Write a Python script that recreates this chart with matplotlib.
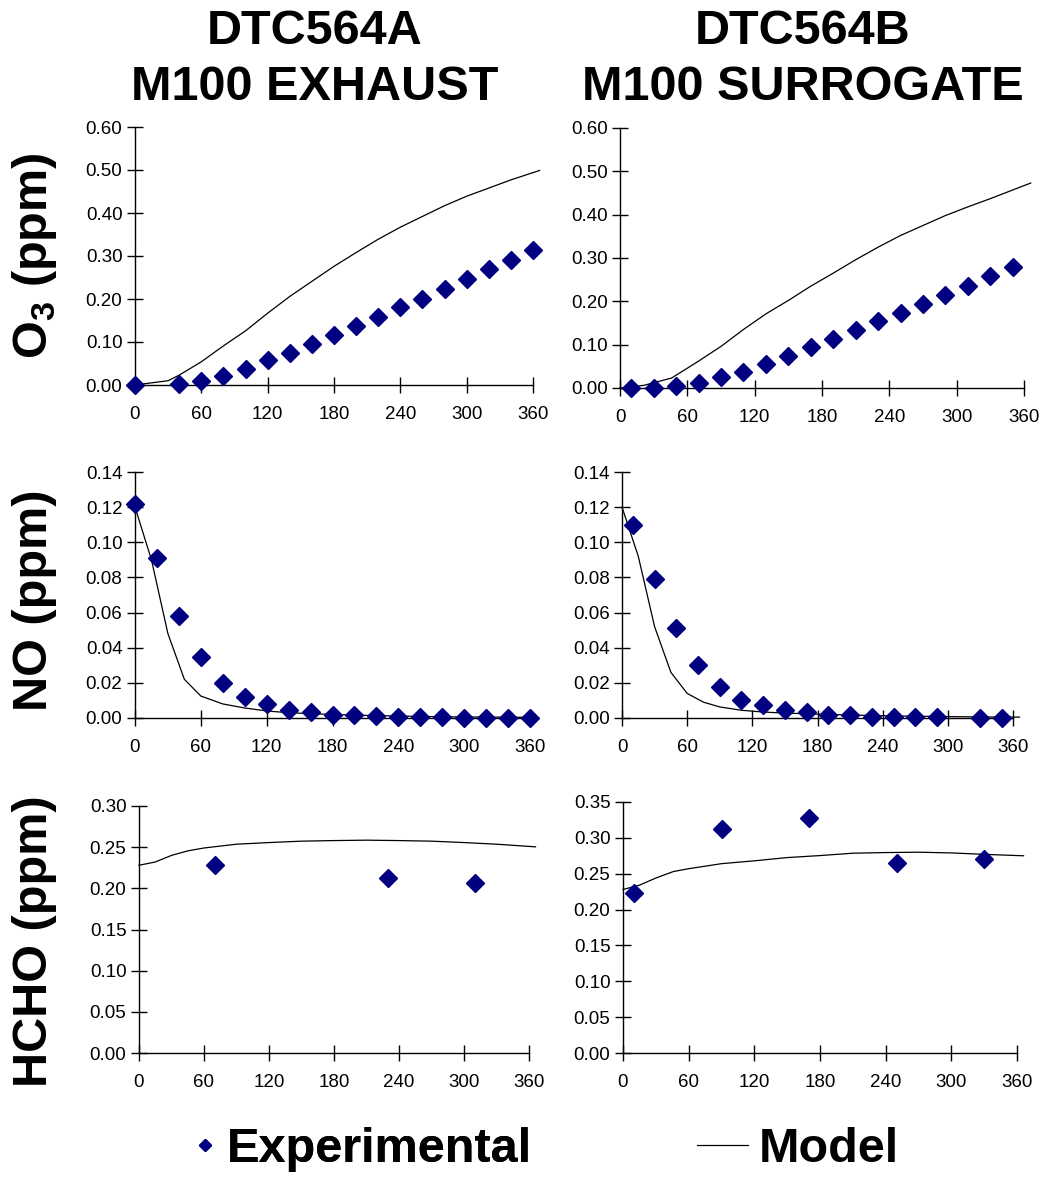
import numpy as np
import matplotlib
matplotlib.use("Agg")
import matplotlib.pyplot as plt
from matplotlib.lines import Line2D

plt.rcParams['font.family'] = ['Liberation Sans', 'DejaVu Sans']
plt.rcParams['mathtext.fontset'] = 'custom'
plt.rcParams['mathtext.rm'] = 'Liberation Sans'
plt.rcParams['mathtext.bf'] = 'Liberation Sans:bold'

# --- datos (tiempo en minutos, concentracion en ppm) ---
o3_a_exp_t = [0, 40, 60, 80, 100, 120, 140, 160, 180, 200, 220, 240, 260, 280, 300, 320, 340, 360]
o3_a_exp = [0.000, 0.002, 0.010, 0.022, 0.038, 0.057, 0.075, 0.095, 0.116, 0.137,
            0.159, 0.181, 0.200, 0.224, 0.246, 0.270, 0.290, 0.313]
o3_a_mod_t = [0, 30, 40, 60, 80, 100, 120, 140, 160, 180, 200, 220, 240, 260, 280, 300, 320, 340, 366]
o3_a_mod = [0.000, 0.010, 0.023, 0.054, 0.091, 0.126, 0.167, 0.206, 0.241, 0.276,
            0.308, 0.339, 0.367, 0.392, 0.417, 0.439, 0.458, 0.477, 0.499]

o3_b_exp_t = [10, 30, 50, 70, 90, 110, 130, 150, 170, 190, 210, 230, 250, 270, 290, 310, 330, 350]
o3_b_exp = [0.000, 0.000, 0.005, 0.012, 0.025, 0.038, 0.056, 0.075, 0.094, 0.114,
            0.133, 0.154, 0.174, 0.194, 0.215, 0.236, 0.258, 0.280]
o3_b_mod_t = [0, 21, 46, 70, 90, 110, 130, 150, 170, 190, 210, 230, 250, 270, 290, 310, 330, 366]
o3_b_mod = [0.000, 0.006, 0.023, 0.062, 0.096, 0.135, 0.171, 0.202, 0.235, 0.265,
            0.296, 0.325, 0.352, 0.375, 0.398, 0.418, 0.437, 0.473]

no_a_exp_t = [0, 20, 40, 60, 80, 100, 120, 140, 160, 180, 200, 220, 240, 260, 280, 300, 320, 340, 360]
no_a_exp = [0.122, 0.091, 0.058, 0.035, 0.020, 0.012, 0.0078, 0.0047, 0.0034, 0.0017,
            0.0017, 0.0011, 0.0008, 0.0008, 0.0004, 0.0002, 0.0002, 0.0002, 0.0002]
no_a_mod_t = [0, 15, 30, 45, 60, 80, 100, 120, 140, 160, 180, 210, 240, 270, 300, 330, 366]
no_a_mod = [0.120, 0.090, 0.048, 0.022, 0.0125, 0.008, 0.0057, 0.004, 0.003, 0.0025,
            0.002, 0.0015, 0.0011, 0.0008, 0.0006, 0.0005, 0.0004]

no_b_exp_t = [10, 30, 50, 70, 90, 110, 130, 150, 170, 190, 210, 230, 250, 270, 290, 330, 350]
no_b_exp = [0.110, 0.079, 0.051, 0.030, 0.0176, 0.0104, 0.0076, 0.0044, 0.0034, 0.0015,
            0.0015, 0.0008, 0.0008, 0.0008, 0.0008, 0.0001, 0.0001]
no_b_mod_t = [0, 15, 30, 45, 60, 75, 90, 110, 130, 150, 180, 210, 240, 270, 300, 330, 366]
no_b_mod = [0.120, 0.092, 0.052, 0.026, 0.014, 0.009, 0.0063, 0.0044, 0.0034, 0.0028,
            0.0022, 0.0017, 0.0013, 0.001, 0.0008, 0.0006, 0.0005]

hcho_a_exp_t = [70, 230, 310]
hcho_a_exp = [0.228, 0.212, 0.207]
hcho_a_mod_t = [0, 15, 30, 45, 60, 90, 120, 150, 180, 210, 240, 270, 300, 330, 366]
hcho_a_mod = [0.228, 0.232, 0.240, 0.2455, 0.249, 0.2536, 0.2556, 0.2573, 0.258,
              0.2585, 0.258, 0.2573, 0.2556, 0.2536, 0.2504]

hcho_b_exp_t = [10, 90, 170, 250, 330]
hcho_b_exp = [0.223, 0.313, 0.328, 0.265, 0.270]
hcho_b_mod_t = [0, 15, 30, 46, 60, 90, 120, 150, 180, 210, 240, 270, 300, 330, 366]
hcho_b_mod = [0.228, 0.234, 0.244, 0.253, 0.257, 0.264, 0.268, 0.2725, 0.2753,
              0.2786, 0.2795, 0.280, 0.279, 0.277, 0.275]

titles_a = ["DTC564A", "M100 EXHAUST"]
titles_b = ["DTC564B", "M100 SURROGATE"]
ylabels = [r"O$_\mathbf{3}$ (ppm)", "NO (ppm)", "HCHO (ppm)"]
x_ticks = [0, 60, 120, 180, 240, 300, 360]

W, H = 1045, 1183
EXP_COLOR = '#000080'
BIG = 35


def box(left, right, top, bottom):
    # pixeles de la imagen -> fracciones de figura
    return [left / W, 1 - bottom / H, (right - left) / W, (bottom - top) / H]


def panel(fig, rect, exp_t, exp_v, mod_t, mod_v, ymax, ystep):
    ax = fig.add_axes(rect)
    ax.plot(mod_t, mod_v, color='black', lw=0.9, clip_on=False, zorder=2)
    ax.plot(exp_t, exp_v, 'D', color=EXP_COLOR, ms=9.5, mec=EXP_COLOR,
            clip_on=False, zorder=3)
    ax.set_xlim(0, 360)
    ax.set_ylim(0, ymax)
    ax.set_xticks(x_ticks)
    ax.set_yticks(np.arange(0, ymax + ystep / 2, ystep))
    ax.yaxis.set_major_formatter(matplotlib.ticker.FormatStrFormatter('%.2f'))
    for s in ['top', 'right']:
        ax.spines[s].set_visible(False)
    for s in ['left', 'bottom']:
        ax.spines[s].set_linewidth(1.0)
    ax.tick_params(direction='inout', length=12, width=1.0, labelsize=13.5)
    ax.tick_params(axis='x', pad=9)
    ax.tick_params(axis='y', pad=3)
    ax.set_facecolor('none')
    return ax


fig = plt.figure(figsize=(W / 100, H / 100), dpi=100)

ax1 = panel(fig, box(135, 533, 127, 385), o3_a_exp_t, o3_a_exp, o3_a_mod_t, o3_a_mod, 0.6, 0.1)
ax2 = panel(fig, box(620, 1024, 128, 388), o3_b_exp_t, o3_b_exp, o3_b_mod_t, o3_b_mod, 0.6, 0.1)
ax3 = panel(fig, box(135, 530, 472, 718), no_a_exp_t, no_a_exp, no_a_mod_t, no_a_mod, 0.14, 0.02)
ax4 = panel(fig, box(622, 1013, 472, 718), no_b_exp_t, no_b_exp, no_b_mod_t, no_b_mod, 0.14, 0.02)
ax5 = panel(fig, box(139, 529, 806, 1053), hcho_a_exp_t, hcho_a_exp, hcho_a_mod_t, hcho_a_mod, 0.30, 0.05)
ax6 = panel(fig, box(623, 1017, 802, 1053), hcho_b_exp_t, hcho_b_exp, hcho_b_mod_t, hcho_b_mod, 0.35, 0.05)

# titulos de columna
for cx, lines in [(315, titles_a), (803, titles_b)]:
    fig.text(cx / W, 1 - 44 / H, lines[0], ha='center', va='baseline',
             fontsize=BIG, fontweight='bold')
    fig.text(cx / W, 1 - 100 / H, lines[1], ha='center', va='baseline',
             fontsize=BIG, fontweight='bold')

# etiquetas del eje y
for cy, lab in zip([256, 600, 941], ylabels):
    fig.text(35 / W, 1 - cy / H, lab, rotation=90, ha='center', va='center',
             fontsize=BIG, fontweight='bold')

# leyenda (dos bloques para ajustar la separacion de cada uno)
exp_handle = Line2D([], [], ls='none', marker='D', color=EXP_COLOR, ms=6)
mod_handle = Line2D([], [], color='black', lw=0.9)
leg_font = {'size': BIG, 'weight': 'bold'}
leg1 = fig.legend([exp_handle], ['Experimental'], loc='center left',
                  bbox_to_anchor=(193 / W, 1 - 1150 / H), frameon=False,
                  prop=leg_font, handlelength=0.5, handletextpad=0.2,
                  borderpad=0, borderaxespad=0)
fig.legend([mod_handle], ['Model'], loc='center left',
           bbox_to_anchor=(697 / W, 1 - 1150 / H), frameon=False,
           prop=leg_font, handlelength=1.05, handletextpad=0.22,
           borderpad=0, borderaxespad=0)
fig.add_artist(leg1)

fig.savefig('out.png', dpi=100)
